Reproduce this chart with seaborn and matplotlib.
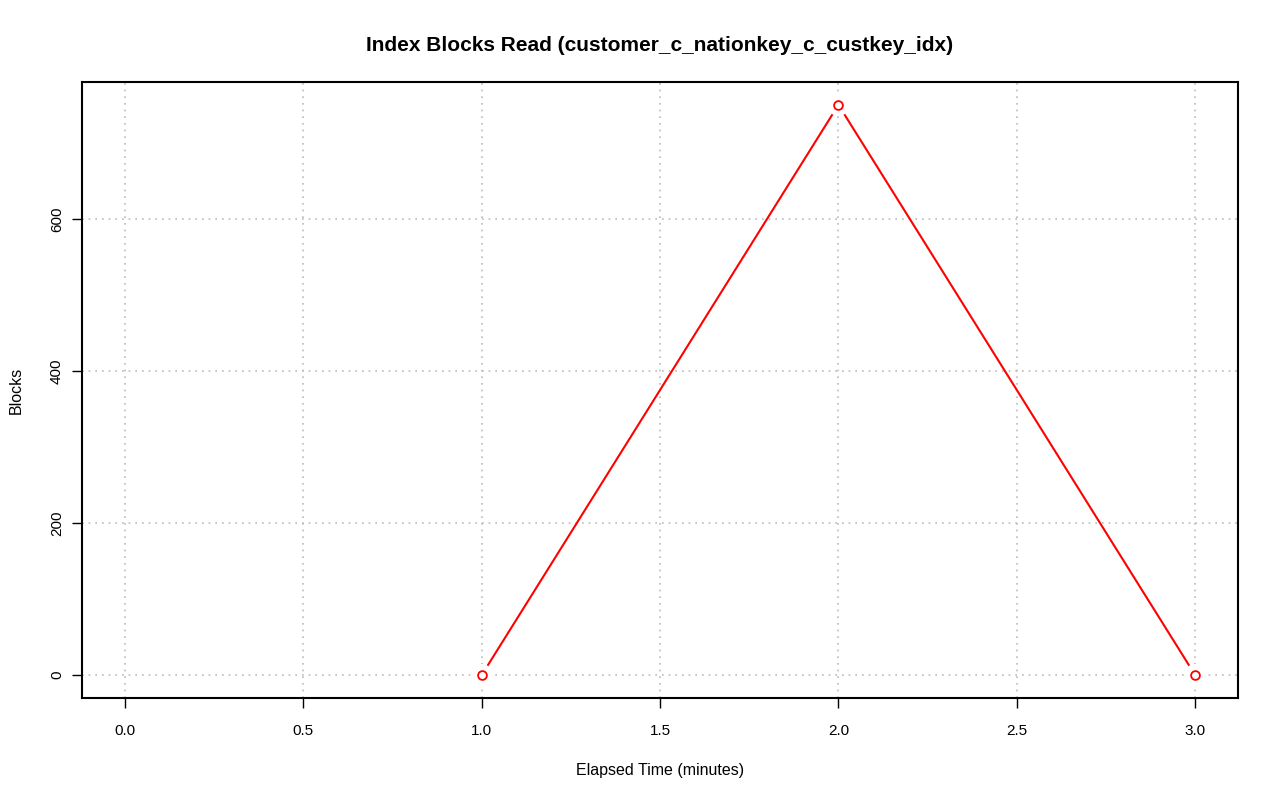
import pandas as pd
import numpy as np
import matplotlib
matplotlib.use('Agg')
import matplotlib.pyplot as plt
import seaborn as sns
sns.set_style('white')
plt.rcParams['font.family'] = ['Liberation Sans', 'DejaVu Sans']
plt.rcParams['text.color'] = 'black'
plt.rcParams['axes.labelcolor'] = 'black'

# data
elapsed = [1, 2, 3]
blocks = [0, 750, 0]
xticks = [0.0, 0.5, 1.0, 1.5, 2.0, 2.5, 3.0]
yticks = [0, 200, 400, 600]

df = pd.DataFrame({'Elapsed': elapsed, 'Blocks': blocks})

fig = plt.figure(figsize=(12.8, 8.01), dpi=100)
ax = fig.add_axes([0.0641, 0.1286, 0.9031, 0.769])

# line, then white disc to cut a gap like R type="b", then hollow red circles
sns.lineplot(data=df, x='Elapsed', y='Blocks', color='red', lw=1.5, ax=ax, zorder=3)
sns.scatterplot(data=df, x='Elapsed', y='Blocks', s=260, color='white', edgecolor='none', ax=ax, zorder=4)
sns.scatterplot(data=df, x='Elapsed', y='Blocks', s=40, facecolor='white', edgecolor='red', linewidth=1.3, ax=ax, zorder=5)

ax.set_xlim(-0.12, 3.12)
ax.set_ylim(-30, 780)
ax.set_xticks(xticks)
ax.set_xticklabels(['%.1f' % t for t in xticks])
ax.set_yticks(yticks)
ax.set_yticklabels([str(t) for t in yticks], rotation=90, va='center')
ax.grid(True, ls=(0, (1, 3)), color='#bbbbbb', lw=1.2)
ax.tick_params(direction='out', length=7, width=1, labelsize=11, left=True, bottom=True, colors='black')
ax.tick_params(axis='x', pad=12)
ax.tick_params(axis='y', pad=6)
for s in ax.spines.values():
    s.set_color('black')
    s.set_linewidth(1.5)

ax.set_xlabel('Elapsed Time (minutes)', fontsize=11.5, labelpad=18)
ax.set_ylabel('Blocks', fontsize=11.5, labelpad=19)
ax.set_title('Index Blocks Read (customer_c_nationkey_c_custkey_idx)', fontsize=15, fontweight='bold', pad=22)

fig.savefig('out.png', dpi=100)
